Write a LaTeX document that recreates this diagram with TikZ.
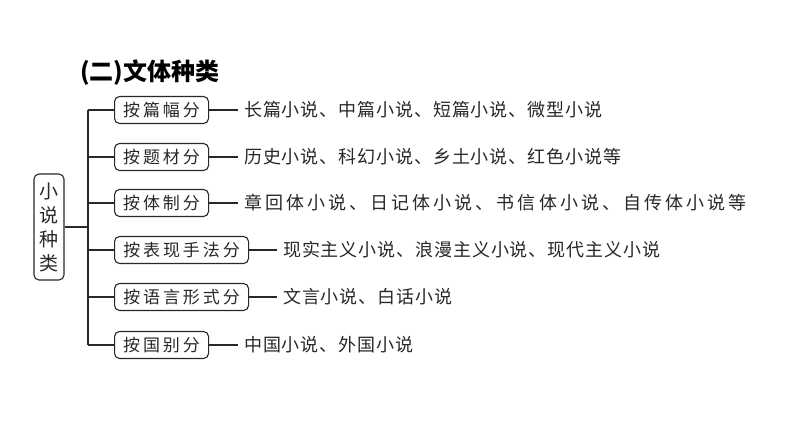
\documentclass[tikz,border=0pt]{standalone}
\usepackage{fontspec}
\setmainfont{Noto Sans CJK SC}
\definecolor{inkgray}{RGB}{40,40,40}
\usetikzlibrary{positioning}

\begin{document}
\begin{tikzpicture}[x=1pt, y=-1pt,
		kind/.style={draw=inkgray, line width=1.1pt, rounded corners=5pt,
			minimum height=27pt, inner sep=0pt, anchor=west, text=inkgray,
			font=\fontsize{17}{17}\selectfont\addfontfeature{LetterSpace=17}},
		leaf/.style={anchor=west, inner xsep=6pt, inner ysep=0pt, text=inkgray,
			font=\fontsize{18}{18}\selectfont\addfontfeature{LetterSpace=5}},
		link/.style={draw=inkgray, line width=1.1pt}
	]
		\useasboundingbox[fill=white] (0,0) rectangle (794,447);

		\node[anchor=west, inner sep=0pt, font=\fontsize{24}{24}\selectfont\bfseries] (title) at (80,73) {(二)文体种类};

		\node[draw=inkgray, line width=1.1pt, rounded corners=5pt, text=inkgray,
			minimum width=30pt, minimum height=106pt, inner sep=0pt, align=center,
			font=\fontsize{19}{24}\selectfont] (k) at (49,227) {小\\说\\种\\类};

		\coordinate (j) at (88,227);
		\coordinate (t1) at (88,110);
		\coordinate (t2) at (88,157);
		\coordinate (t3) at (88,203);
		\coordinate (t4) at (88,250);
		\coordinate (t5) at (88,297);
		\coordinate (t6) at (88,345);

		\node[kind, minimum width=94pt] (b1) at (114,110) {按篇幅分};
		\node[kind, minimum width=94pt] (b2) at (114,157) {按题材分};
		\node[kind, minimum width=94pt] (b3) at (114,203) {按体制分};
		\node[kind, minimum width=134pt] (b4) at (114,250) {按表现手法分};
		\node[kind, minimum width=134pt] (b5) at (114,297) {按语言形式分};
		\node[kind, minimum width=94pt] (b6) at (114,345) {按国别分};

		\node[leaf] (l1) at (238,110) {长篇小说、中篇小说、短篇小说、微型小说};
		\node[leaf] (l2) at (238,157) {历史小说、科幻小说、乡土小说、红色小说等};
		\node[leaf, font=\fontsize{18}{18}\selectfont\addfontfeature{LetterSpace=17}] (l3) at (238,203) {章回体小说、日记体小说、书信体小说、自传体小说等};
		\node[leaf] (l4) at (277,250) {现实主义小说、浪漫主义小说、现代主义小说};
		\node[leaf] (l5) at (277,297) {文言小说、白话小说};
		\node[leaf] (l6) at (238,345) {中国小说、外国小说};

		\draw[link] (k.east) -- (j);
		\draw[link] (t1) -- (t6);
		\draw[link] (t1) -- (b1.west);
		\draw[link] (t2) -- (b2.west);
		\draw[link] (t3) -- (b3.west);
		\draw[link] (t4) -- (b4.west);
		\draw[link] (t5) -- (b5.west);
		\draw[link] (t6) -- (b6.west);

		\draw[link] (b1.east) -- (l1.west);
		\draw[link] (b2.east) -- (l2.west);
		\draw[link] (b3.east) -- (l3.west);
		\draw[link] (b4.east) -- (l4.west);
		\draw[link] (b5.east) -- (l5.west);
		\draw[link] (b6.east) -- (l6.west);
	\end{tikzpicture}
\end{document}
